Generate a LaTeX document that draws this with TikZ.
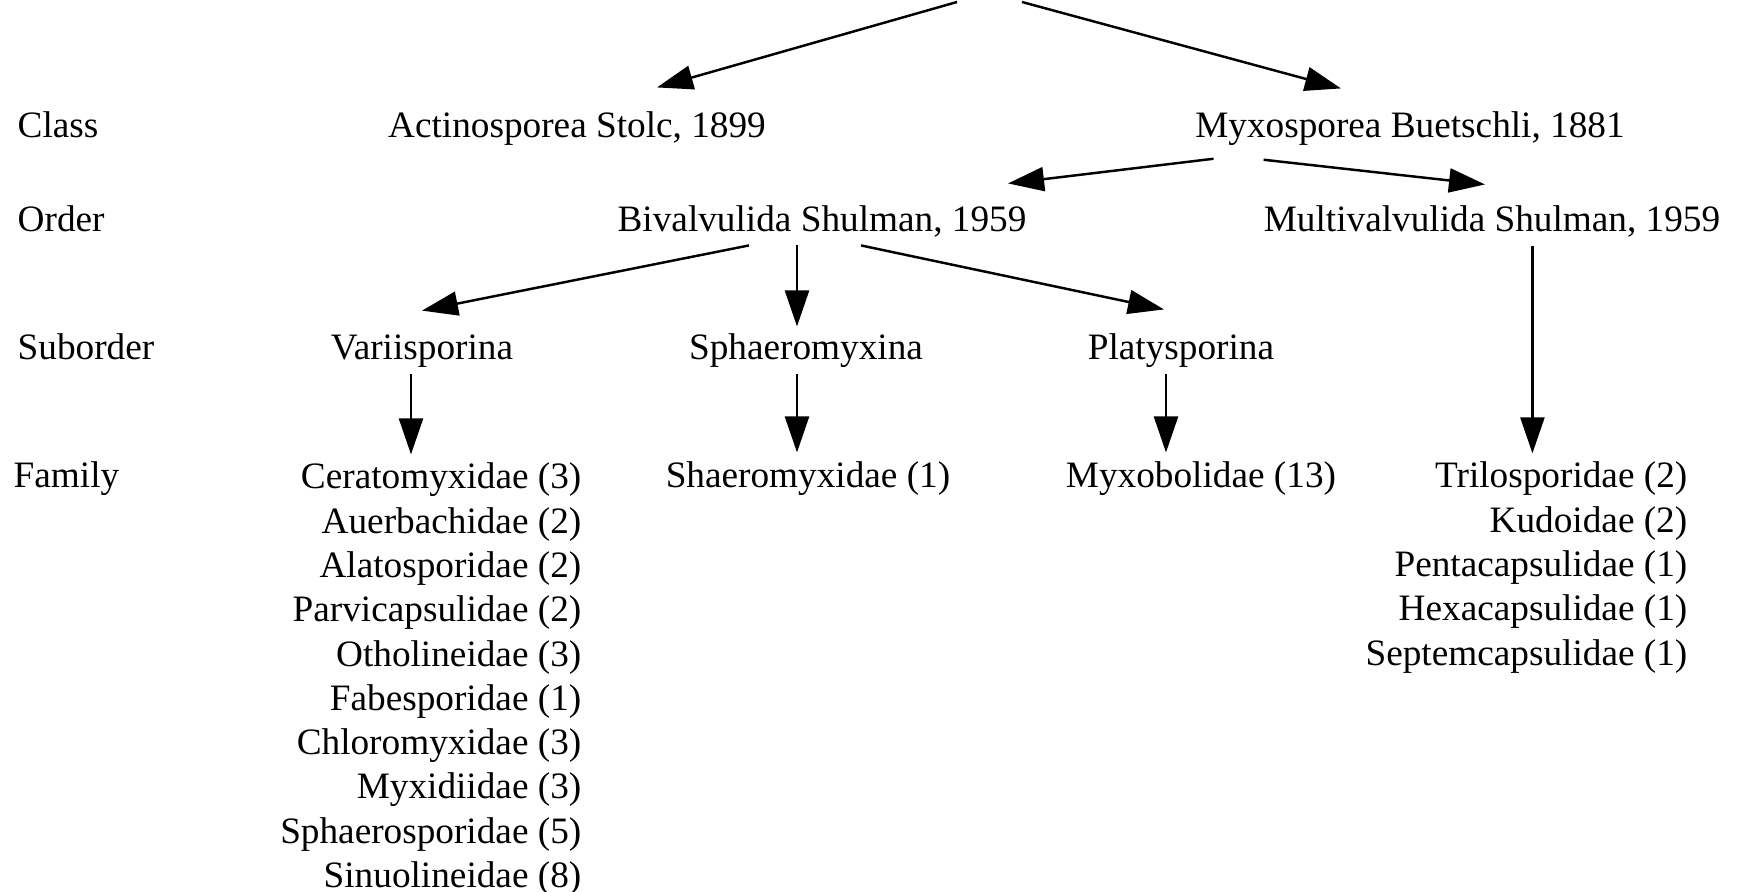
\documentclass[tikz,border=0pt]{standalone}
\usepackage{fontspec}
\setmainfont{Liberation Serif}
\usepackage{tikz}
\usetikzlibrary{arrows.meta,positioning}
\newcommand{\taxfont}{\fontsize{10.6pt}{12.6pt}\selectfont}
\tikzstyle{rank} = [anchor=base west]
\tikzstyle{taxon} = [anchor=base]
\tikzstyle{famlist} = [anchor=base east, align=right]
\tikzstyle{line} = [draw, line width=0.7pt, -{Triangle[length=0.36cm,width=0.24cm]}]

\begin{document}
\begin{tikzpicture}[every node/.style={inner sep=0pt, font=\taxfont}]
	\useasboundingbox (0,0) rectangle (17.45,-8.92);
	%Place nodes
	\coordinate (Phylum) at (9.90,0);
	\node [rank] (Class) at (0.17,-1.37) {Class};
	\node [taxon] (Actin) at (5.77,-1.37) {Actinosporea Stolc, 1899};
	\node [taxon] (Myxo) at (14.10,-1.37) {Myxosporea Buetschli, 1881};
	\node [rank] (Order) at (0.17,-2.31) {Order};
	\node [taxon] (Bival) at (8.22,-2.31) {Bivalvulida Shulman, 1959};
	\node [taxon] (Multi) at (14.92,-2.31) {Multivalvulida Shulman, 1959};
	\node [rank] (Suborder) at (0.17,-3.59) {Suborder};
	\node [taxon] (Varii) at (4.22,-3.59) {Variisporina};
	\node [taxon] (Sphaero) at (8.06,-3.59) {Sphaeromyxina};
	\node [taxon] (Platy) at (11.81,-3.59) {Platysporina};
	\node [rank] (Family) at (0.13,-4.87) {Family};
	%lists are placed by their last line
	\node [famlist] (Cerat) at (5.82,-8.875) {Ceratomyxidae (3)\\Auerbachidae (2)\\Alatosporidae (2)\\Parvicapsulidae (2)\\Otholineidae (3)\\Fabesporidae (1)\\Chloromyxidae (3)\\Myxidiidae (3)\\Sphaerosporidae (5)\\Sinuolineidae (8)};
	\node [taxon] (Shaero) at (8.08,-4.87) {Shaeromyxidae (1)};
	\node [taxon] (Myxob) at (12.01,-4.87) {Myxobolidae (13)};
	\node [famlist] (Trilo) at (16.88,-6.65) {Trilosporidae (2)\\Kudoidae (2)\\Pentacapsulidae (1)\\Hexacapsulidae (1)\\Septemcapsulidae (1)};

	%Arrows
	\path [line] ([xshift=-0.33cm,yshift=-0.02cm]Phylum) -- ([xshift=0.80cm,yshift=0.23cm]Actin.north);
	\path [line] ([xshift=0.32cm,yshift=-0.02cm]Phylum) -- ([xshift=-0.69cm,yshift=0.22cm]Myxo.north);
	\path [line] ([xshift=0.19cm,yshift=-0.13cm]Myxo.south west) -- ([xshift=-0.19cm,yshift=0.21cm]Bival.north east);
	\path [line] ([xshift=0.69cm,yshift=-0.14cm]Myxo.south west) -- ([xshift=-0.07cm,yshift=0.20cm]Multi.north);
	\path [line] ([xshift=-0.73cm,yshift=-0.08cm]Bival.south) -- ([yshift=0.23cm]Varii.north);
	\path [line, shorten <=0.08cm, shorten >=0.06cm] ([xshift=-0.09cm]Sphaero.north |- Bival.south) -- ([xshift=-0.09cm]Sphaero.north);
	\path [line] ([xshift=0.39cm,yshift=-0.08cm]Bival.south) -- ([xshift=-0.17cm,yshift=0.23cm]Platy.north);
	\path [line, shorten <=0.09cm, shorten >=0.08cm] ([xshift=0.06cm]Multi.south -| Trilo.north) -- ([xshift=0.06cm]Trilo.north);
	\path [line, shorten <=0.06cm, shorten >=0.08cm] ([xshift=-0.11cm]Varii.south) -- ([xshift=-0.11cm]Varii.south |- Cerat.north);
	\path [line, shorten <=0.06cm, shorten >=0.08cm] ([xshift=-0.09cm]Sphaero.south) -- ([xshift=-0.09cm]Sphaero.south |- Shaero.north);
	\path [line, shorten <=0.06cm, shorten >=0.08cm] ([xshift=-0.15cm]Platy.south) -- ([xshift=-0.15cm]Platy.south |- Myxob.north);
\end{tikzpicture}
\end{document}
